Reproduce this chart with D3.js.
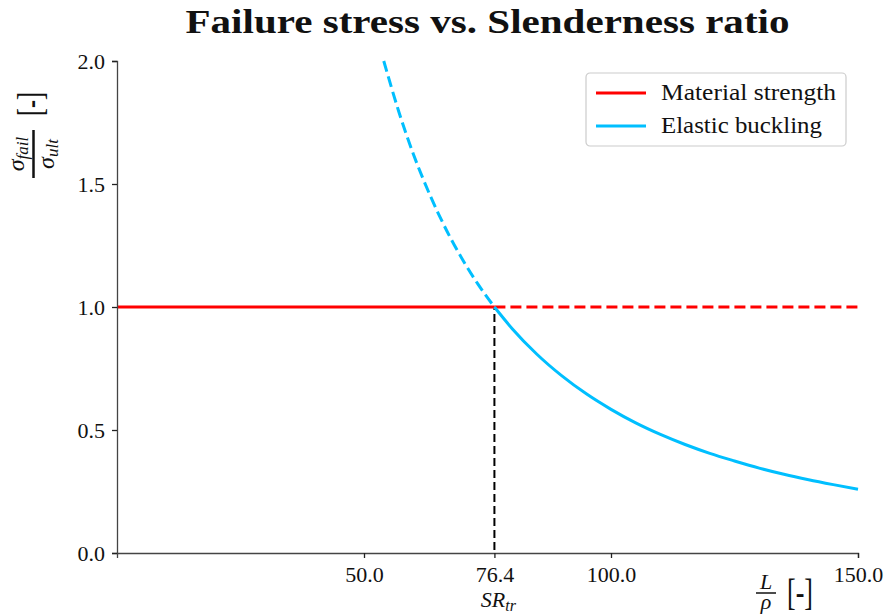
<!DOCTYPE html>
<html>
<head>
<meta charset="utf-8">
<script src="https://cdn.jsdelivr.net/npm/d3@7"></script>
<style>
  html, body { margin: 0; padding: 0; background: #fff; }
  svg { display: block; }
  text { font-family: "Liberation Serif", "DejaVu Serif", serif; fill: #111; }
</style>
</head>
<body>
<svg id="chart" width="886" height="616"></svg>
<script>
// Slenderness ratio samples (L/rho) and the elastic buckling stress ratio at each
const slenderness = [54, 57, 60, 62, 65, 67.5, 70, 73, 76.4, 80, 85, 90, 95, 100, 105, 110, 115, 120, 125, 130, 135, 140, 145, 150];
const bucklingRatio = [2.0, 1.797, 1.621, 1.519, 1.382, 1.281, 1.191, 1.095, 1.0, 0.912, 0.808, 0.721, 0.647, 0.584, 0.529, 0.482, 0.441, 0.405, 0.374, 0.345, 0.320, 0.298, 0.278, 0.259];

// Material strength plateau (normalised)
const materialX = [0, 76.4, 150];
const materialRatio = [1.0, 1.0, 1.0];

// Transition slenderness ratio
const transitionSR = 76.4;

// Axis ticks
const xTicks = [50, 76.4, 100, 150];
const yTicks = [0, 0.5, 1.0, 1.5, 2.0];

const legendLabels = ["Material strength", "Elastic buckling"];
const colors = { material: "#ff0000", buckling: "#00bfff" };

const svg = d3.select("#chart");
const margin = { left: 117, right: 28, top: 61, bottom: 63 };
const W = 886, H = 616;

const x = d3.scaleLinear().domain([0, 150]).range([margin.left, W - margin.right]);
const y = d3.scaleLinear().domain([0, 2.0]).range([H - margin.bottom, margin.top]);

// Title (wide bold face)
svg.append("text")
  .attr("x", (x(0) + x(150)) / 2)
  .attr("y", 33)
  .attr("text-anchor", "middle")
  .attr("textLength", 604)
  .attr("lengthAdjust", "spacingAndGlyphs")
  .style("font-size", "34px")
  .style("font-weight", "bold")
  .text("Failure stress vs. Slenderness ratio");

const plot = svg.append("g");

// Vertical marker at the transition ratio
plot.append("line")
  .attr("x1", x(transitionSR)).attr("x2", x(transitionSR))
  .attr("y1", y(0) - 3).attr("y2", y(1.0))
  .attr("stroke", "#000").attr("stroke-width", 2)
  .attr("stroke-dasharray", "8,4");

const line = d3.line().x(d => x(d[0])).y(d => y(d[1])).curve(d3.curveMonotoneX);

const matPts = materialX.map((v, i) => [v, materialRatio[i]]);
const buckPts = slenderness.map((v, i) => [v, bucklingRatio[i]]);

// Material strength: solid up to the transition, dashed beyond
plot.append("path").datum(matPts.filter(d => d[0] <= transitionSR))
  .attr("d", line).attr("fill", "none")
  .attr("stroke", colors.material).attr("stroke-width", 3);
plot.append("path").datum(matPts.filter(d => d[0] >= transitionSR))
  .attr("d", line).attr("fill", "none")
  .attr("stroke", colors.material).attr("stroke-width", 3)
  .attr("stroke-dasharray", "11,5");

// Elastic buckling: dashed below the transition, solid beyond
plot.append("path").datum(buckPts.filter(d => d[0] <= transitionSR))
  .attr("d", line).attr("fill", "none")
  .attr("stroke", colors.buckling).attr("stroke-width", 3)
  .attr("stroke-dasharray", "11,5");
plot.append("path").datum(buckPts.filter(d => d[0] >= transitionSR))
  .attr("d", line).attr("fill", "none")
  .attr("stroke", colors.buckling).attr("stroke-width", 3);

// Axes
const xAxis = d3.axisBottom(x).tickValues(xTicks).tickFormat(d3.format(".1f")).tickSizeOuter(0).tickSize(5).tickPadding(8);
const yAxis = d3.axisLeft(y).tickValues(yTicks).tickFormat(d3.format(".1f")).tickSizeOuter(0).tickSize(5).tickPadding(7);

const gx = svg.append("g").attr("transform", `translate(0,${y(0)})`).call(xAxis);
const gy = svg.append("g").attr("transform", `translate(${x(0)},0)`).call(yAxis);
[gx, gy].forEach(g => {
  g.select(".domain").attr("stroke", "#444").attr("stroke-width", 1.3);
  g.selectAll(".tick line").attr("stroke", "#222").attr("stroke-width", 1.3);
  g.selectAll(".tick text").style("font-size", "22px").style("font-family", "Liberation Serif, serif").attr("fill", "#111");
});

// SR_tr annotation under the transition tick
const sr = svg.append("text")
  .attr("x", x(transitionSR) + 4).attr("y", 607)
  .attr("text-anchor", "middle")
  .style("font-size", "22px").style("font-style", "italic");
sr.append("tspan").text("SR");
sr.append("tspan").attr("dy", 4).style("font-size", "16px").text("tr");

// x-axis label: L / rho [-]
const xl = svg.append("g").attr("transform", "translate(766,593)");
xl.append("text").attr("x", 0).attr("y", -4).attr("text-anchor", "middle")
  .style("font-size", "22px").style("font-style", "italic").text("L");
xl.append("line").attr("x1", -10).attr("x2", 10).attr("y1", 0).attr("y2", 0)
  .attr("stroke", "#111").attr("stroke-width", 1.5);
xl.append("text").attr("x", 0).attr("y", 16).attr("text-anchor", "middle")
  .style("font-size", "22px").style("font-style", "italic").text("ρ");
xl.append("text").attr("transform", "translate(34,12) scale(1,1.45)")
  .attr("text-anchor", "middle")
  .style("font-size", "26px").text("[-]");

// y-axis label: sigma_fail / sigma_ult [-]
const yl = svg.append("g").attr("transform", "translate(33.5,154) rotate(-90)");
const num = yl.append("text").attr("x", 0).attr("y", -10).attr("text-anchor", "middle")
  .style("font-size", "24px").style("font-style", "italic");
num.append("tspan").text("σ");
num.append("tspan").attr("dy", 4).style("font-size", "17px").text("fail");
yl.append("line").attr("x1", -24).attr("x2", 24).attr("y1", 0).attr("y2", 0)
  .attr("stroke", "#111").attr("stroke-width", 2.5);
const den = yl.append("text").attr("x", 0).attr("y", 20).attr("text-anchor", "middle")
  .style("font-size", "24px").style("font-style", "italic");
den.append("tspan").text("σ");
den.append("tspan").attr("dy", 4).style("font-size", "17px").text("ult");
yl.append("text").attr("transform", "translate(50,8) scale(1,1.45)")
  .attr("text-anchor", "middle")
  .style("font-size", "24px").text("[-]");

// Legend
const legendWidths = [175, 161];
const lg = svg.append("g").attr("transform", "translate(586,73)");
lg.append("rect").attr("width", 260).attr("height", 73).attr("rx", 4)
  .attr("fill", "#fff").attr("fill-opacity", 0.85)
  .attr("stroke", "#ccc").attr("stroke-width", 1.2);
[colors.material, colors.buckling].forEach((c, i) => {
  const yy = 20 + i * 33;
  lg.append("line").attr("x1", 10).attr("x2", 60).attr("y1", yy).attr("y2", yy)
    .attr("stroke", c).attr("stroke-width", 3);
  lg.append("text").attr("x", 75).attr("y", yy + 7)
    .attr("textLength", legendWidths[i]).attr("lengthAdjust", "spacingAndGlyphs")
    .style("font-size", "23px").text(legendLabels[i]);
});
</script>
</body>
</html>
